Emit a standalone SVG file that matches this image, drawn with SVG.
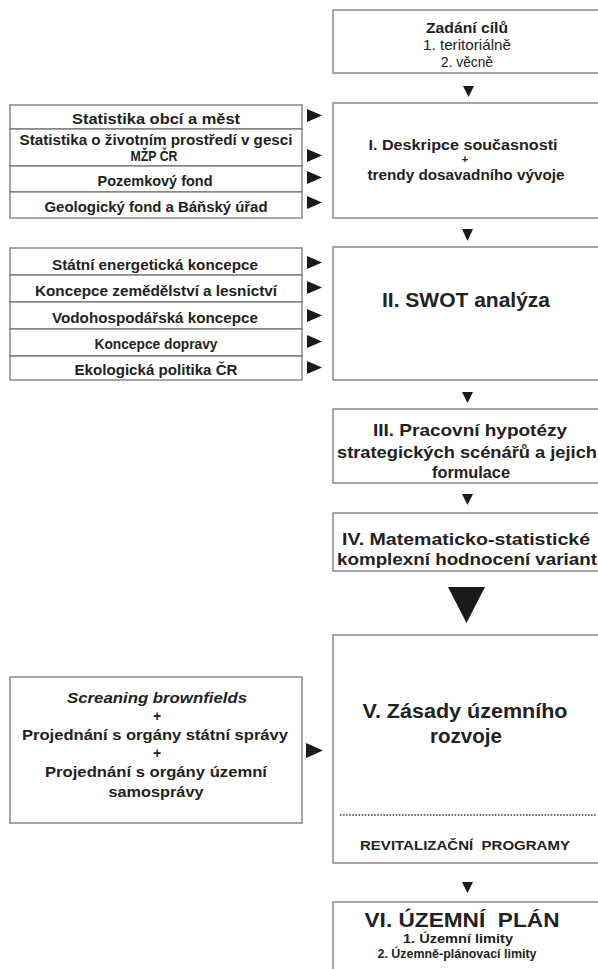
<svg xmlns="http://www.w3.org/2000/svg" width="598" height="969" viewBox="0 0 598 969">
<style>
.box{fill:#fff;stroke:#777;stroke-width:1.3}
.t{font-family:"Liberation Sans",Arial,sans-serif;fill:#222;text-anchor:middle}
.b{font-weight:bold}
.arr{fill:#1a1a1a}
</style>
<rect width="598" height="969" fill="#fff"/>

<g id="n-cile">
<rect class="box" x="333" y="10" width="280" height="63"/>
<text class="t b" x="467" y="33" font-size="14.5" textLength="82" lengthAdjust="spacingAndGlyphs">Zadání cílů</text>
<text class="t" x="467" y="50" font-size="14.5" textLength="88" lengthAdjust="spacingAndGlyphs">1. teritoriálně</text>
<text class="t" x="467" y="67" font-size="14.5" textLength="52" lengthAdjust="spacingAndGlyphs">2. věcně</text>
</g>

<g id="n-deskripce">
<rect class="box" x="333" y="103" width="280" height="115"/>
<text class="t b" x="463" y="150" font-size="14.5" textLength="189" lengthAdjust="spacingAndGlyphs">I. Deskripce současnosti</text>
<text class="t b" x="465" y="163" font-size="11">+</text>
<text class="t b" x="466" y="180" font-size="14.5" textLength="197" lengthAdjust="spacingAndGlyphs">trendy dosavadního vývoje</text>
</g>

<g id="n-swot">
<rect class="box" x="333" y="247" width="280" height="133"/>
<text class="t b" x="466" y="307" font-size="20.5" textLength="168" lengthAdjust="spacingAndGlyphs">II. SWOT analýza</text>
</g>

<g id="n-hypotezy">
<rect class="box" x="333" y="409" width="280" height="74"/>
<text class="t b" x="470" y="436" font-size="17" textLength="194" lengthAdjust="spacingAndGlyphs">III. Pracovní hypotézy</text>
<text class="t b" x="467" y="458" font-size="17" textLength="260" lengthAdjust="spacingAndGlyphs">strategických scénářů a jejich</text>
<text class="t b" x="471" y="478" font-size="17" textLength="78" lengthAdjust="spacingAndGlyphs">formulace</text>
</g>

<g id="n-hodnoceni">
<rect class="box" x="333" y="513" width="280" height="58"/>
<text class="t b" x="466" y="545" font-size="17" textLength="248" lengthAdjust="spacingAndGlyphs">IV. Matematicko-statistické</text>
<text class="t b" x="467" y="565" font-size="17" textLength="260" lengthAdjust="spacingAndGlyphs">komplexní hodnocení variant</text>
</g>

<g id="n-zasady">
<rect class="box" x="333" y="635" width="280" height="228"/>
<text class="t b" x="465" y="718" font-size="20" textLength="205" lengthAdjust="spacingAndGlyphs">V. Zásady územního</text>
<text class="t b" x="466" y="743" font-size="20" textLength="72" lengthAdjust="spacingAndGlyphs">rozvoje</text>
<line x1="340" y1="815" x2="596" y2="815" stroke="#333" stroke-width="1.5" stroke-dasharray="1.5 1.6"/>
<text class="t b" x="465" y="850" font-size="13.5" textLength="210" lengthAdjust="spacingAndGlyphs">REVITALIZAČNÍ&#160; PROGRAMY</text>
</g>

<g id="n-uzemni-plan">
<rect class="box" x="333" y="902" width="280" height="90"/>
<text class="t b" x="462" y="927" font-size="20.5" textLength="195" lengthAdjust="spacingAndGlyphs">VI. ÚZEMNÍ&#160; PLÁN</text>
<text class="t b" x="458" y="943" font-size="13.5" textLength="110" lengthAdjust="spacingAndGlyphs">1. Územní limity</text>
<text class="t b" x="457" y="958" font-size="13.5" textLength="159" lengthAdjust="spacingAndGlyphs">2. Územně-plánovací limity</text>
</g>

<g id="n-zdroje-1">
<rect class="box" x="10" y="105" width="292" height="24"/>
<rect class="box" x="10" y="129" width="292" height="37"/>
<rect class="box" x="10" y="166" width="292" height="26"/>
<rect class="box" x="10" y="192" width="292" height="26"/>
<text class="t b" x="156" y="124" font-size="15" textLength="168" lengthAdjust="spacingAndGlyphs">Statistika obcí a měst</text>
<text class="t b" x="156" y="145" font-size="14.5" textLength="273" lengthAdjust="spacingAndGlyphs">Statistika o životním prostředí v gesci</text>
<text class="t b" x="154" y="161" font-size="14.5" textLength="47" lengthAdjust="spacingAndGlyphs">MŽP ČR</text>
<text class="t b" x="155" y="186" font-size="14.5" textLength="115" lengthAdjust="spacingAndGlyphs">Pozemkový fond</text>
<text class="t b" x="156" y="212" font-size="14.5" textLength="223" lengthAdjust="spacingAndGlyphs">Geologický fond a Báňský úřad</text>
</g>

<g id="n-zdroje-2">
<rect class="box" x="10" y="248" width="292" height="27"/>
<rect class="box" x="10" y="275" width="292" height="27"/>
<rect class="box" x="10" y="302" width="292" height="27"/>
<rect class="box" x="10" y="329" width="292" height="27"/>
<rect class="box" x="10" y="356" width="292" height="24"/>
<text class="t b" x="155" y="270" font-size="14" textLength="206" lengthAdjust="spacingAndGlyphs">Státní energetická koncepce</text>
<text class="t b" x="156" y="296" font-size="14" textLength="242" lengthAdjust="spacingAndGlyphs">Koncepce zemědělství a lesnictví</text>
<text class="t b" x="155" y="323" font-size="14" textLength="206" lengthAdjust="spacingAndGlyphs">Vodohospodářská koncepce</text>
<text class="t b" x="156" y="349" font-size="14" textLength="123" lengthAdjust="spacingAndGlyphs">Koncepce dopravy</text>
<text class="t b" x="156" y="375" font-size="14" textLength="163" lengthAdjust="spacingAndGlyphs">Ekologická politika ČR</text>
</g>

<g id="n-projednani">
<rect class="box" x="10" y="677" width="292" height="146"/>
<text class="t b" x="157" y="703" font-size="15" font-style="italic" textLength="180" lengthAdjust="spacingAndGlyphs">Screaning brownfields</text>
<text class="t b" x="157" y="721" font-size="14">+</text>
<text class="t b" x="155" y="740" font-size="15" textLength="266" lengthAdjust="spacingAndGlyphs">Projednání s orgány státní správy</text>
<text class="t b" x="157" y="758" font-size="14">+</text>
<text class="t b" x="156" y="777" font-size="15" textLength="222" lengthAdjust="spacingAndGlyphs">Projednání s orgány územní</text>
<text class="t b" x="156" y="797" font-size="15" textLength="95" lengthAdjust="spacingAndGlyphs">samosprávy</text>
</g>

<g id="connectors">
<polygon class="arr" points="463,86 474,86 468.5,97"/>
<polygon class="arr" points="462,229 473,229 467.5,241"/>
<polygon class="arr" points="462,392 473,392 467.5,403"/>
<polygon class="arr" points="462,494 473,494 467.5,505"/>
<polygon class="arr" points="448,587 485,587 466.5,623"/>
<polygon class="arr" points="462,882 473,882 467.5,893"/>
<polygon class="arr" points="307,109 322,115.5 307,122"/>
<polygon class="arr" points="307,149 322,155.5 307,162"/>
<polygon class="arr" points="307,171 322,177.5 307,184"/>
<polygon class="arr" points="307,196 322,202.5 307,209"/>
<polygon class="arr" points="307,256 322,262.5 307,269"/>
<polygon class="arr" points="307,281 322,287.5 307,294"/>
<polygon class="arr" points="307,309 322,315.5 307,322"/>
<polygon class="arr" points="307,335 322,341.5 307,348"/>
<polygon class="arr" points="307,361 322,367.5 307,374"/>
<polygon class="arr" points="306,743 323,750.5 306,758"/>
</g>
</svg>
